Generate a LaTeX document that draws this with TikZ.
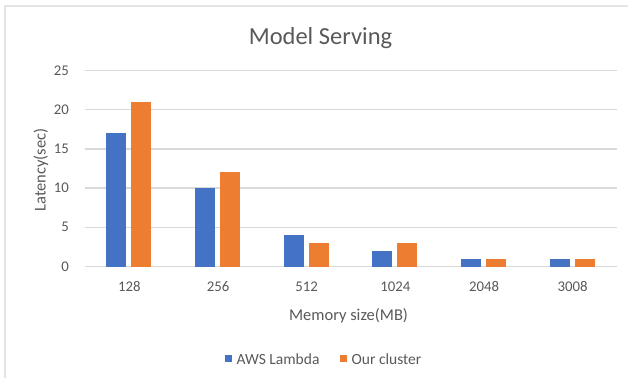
\documentclass[tikz,border=0pt]{standalone}
\usepackage{fontspec}
\setmainfont{Carlito}
\usetikzlibrary{positioning}

\definecolor{lambdablue}{HTML}{4472C4}
\definecolor{clusterorange}{HTML}{ED7D31}
\definecolor{gridgray}{HTML}{D9D9D9}
\definecolor{framegray}{HTML}{E4E4E4}
\definecolor{textgray}{HTML}{595959}

\begin{document}
\begin{tikzpicture}[x=1pt, y=-1pt,
		ticklabel/.style={text=textgray, inner sep=0pt, font=\fontsize{14.8}{16}\selectfont},
		axistitle/.style={text=textgray, inner sep=0pt, font=\fontsize{16.5}{18}\selectfont},
		legendtext/.style={text=textgray, inner sep=0pt, anchor=base west, font=\fontsize{15.5}{17}\selectfont},
		gridline/.style={gridgray, line width=1.3pt},
		lambdabar/.style={fill=lambdablue},
		clusterbar/.style={fill=clusterorange}]
		
		\useasboundingbox (0,0) rectangle (628,379);
		
		% frame
		\draw[framegray, line width=2pt] (5,378) -- (5,6) -- (628,6);
		
		% title
		\node[text=textgray, inner sep=0pt, anchor=base, font=\fontsize{24.5}{28}\selectfont] (title) at (320.5,45) {Model Serving};
		
		% gridlines 0, 5, 10, 15, 20, 25
		\coordinate (g0l) at (85,266.5);   \coordinate (g0r) at (617,266.5);
		\coordinate (g5l) at (85,227.3);   \coordinate (g5r) at (617,227.3);
		\coordinate (g10l) at (85,188.1);  \coordinate (g10r) at (617,188.1);
		\coordinate (g15l) at (85,148.9);  \coordinate (g15r) at (617,148.9);
		\coordinate (g20l) at (85,109.7);  \coordinate (g20r) at (617,109.7);
		\coordinate (g25l) at (85,70.5);   \coordinate (g25r) at (617,70.5);
		
		\draw[gridline] (g0l) -- (g0r);
		\draw[gridline] (g5l) -- (g5r);
		\draw[gridline] (g10l) -- (g10r);
		\draw[gridline] (g15l) -- (g15r);
		\draw[gridline] (g20l) -- (g20r);
		\draw[gridline] (g25l) -- (g25r);
		
		% tick labels
		\node[ticklabel, anchor=east] (y0) at (69,266.5) {0};
		\node[ticklabel, anchor=east] (y5) at (69,227.3) {5};
		\node[ticklabel, anchor=east] (y10) at (69,188.1) {10};
		\node[ticklabel, anchor=east] (y15) at (69,148.9) {15};
		\node[ticklabel, anchor=east] (y20) at (69,109.7) {20};
		\node[ticklabel, anchor=east] (y25) at (69,70.5) {25};
		
		% bars AWS Lambda
		\fill[lambdabar] (106.3,266.5) rectangle (126.3,133.2);
		\fill[lambdabar] (195,266.5) rectangle (215,188.1);
		\fill[lambdabar] (283.7,266.5) rectangle (303.7,235.1);
		\fill[lambdabar] (372.3,266.5) rectangle (392.3,250.8);
		\fill[lambdabar] (461,266.5) rectangle (481,258.7);
		\fill[lambdabar] (549.7,266.5) rectangle (569.7,258.7);
		
		% bars Our cluster
		\fill[clusterbar] (131.3,266.5) rectangle (151.3,101.9);
		\fill[clusterbar] (220,266.5) rectangle (240,172.4);
		\fill[clusterbar] (308.7,266.5) rectangle (328.7,243.0);
		\fill[clusterbar] (397.3,266.5) rectangle (417.3,243.0);
		\fill[clusterbar] (486,266.5) rectangle (506,258.7);
		\fill[clusterbar] (574.7,266.5) rectangle (594.7,258.7);
		
		% category labels
		\node[ticklabel, anchor=base] (x128) at (129.3,291.5) {128};
		\node[ticklabel, anchor=base] (x256) at (218,291.5) {256};
		\node[ticklabel, anchor=base] (x512) at (306.7,291.5) {512};
		\node[ticklabel, anchor=base] (x1024) at (395.3,291.5) {1024};
		\node[ticklabel, anchor=base] (x2048) at (484,291.5) {2048};
		\node[ticklabel, anchor=base] (x3008) at (572.7,291.5) {3008};
		
		% axis titles
		\node[axistitle, anchor=base] (xtitle) at (348.5,320) {Memory size(MB)};
		\node[axistitle, anchor=base, rotate=90] (ytitle) at (45.5,170) {Latency(sec)};
		
		% legend
		\fill[lambdabar] (225,355) rectangle (232,362);
		\node[legendtext] (leglambda) at (236.5,364) {AWS Lambda};
		\fill[clusterbar] (340,355) rectangle (347,362);
		\node[legendtext] (legcluster) at (351.5,364) {Our cluster};
\end{tikzpicture}
\end{document}
